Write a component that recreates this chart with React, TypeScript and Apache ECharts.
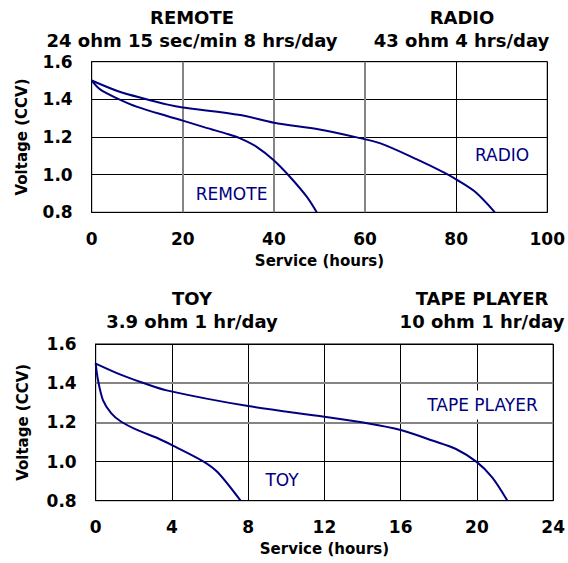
import React, { useEffect, useRef } from "react";
import * as echarts from "echarts";

// Top chart (hours 0-100)
const remoteHours = [0, 2, 5.8, 10, 16.7, 20, 25, 30, 32.6, 36.2, 39.9, 43.5, 47.2, 49.4];
const remoteVolts = [1.5, 1.45, 1.403, 1.36, 1.31, 1.287, 1.25, 1.215, 1.193, 1.148, 1.078, 0.989, 0.883, 0.8];
const radioHours = [0, 5.8, 11.6, 16.7, 20, 32.6, 40, 50, 58.2, 63.4, 71.4, 77.7, 80, 84.1, 88.5];
const radioVolts = [1.5, 1.443, 1.403, 1.372, 1.357, 1.317, 1.276, 1.24, 1.198, 1.166, 1.081, 1.007, 0.975, 0.91, 0.8];

// Bottom chart (hours 0-24)
const tapeHours = [0, 1.34, 2.39, 3.78, 8, 12, 13.95, 16, 17.7, 18.9, 20, 20.8, 21.6];
const tapeVolts = [1.5, 1.442, 1.405, 1.362, 1.283, 1.229, 1.2, 1.161, 1.106, 1.064, 0.997, 0.919, 0.8];
const toyHours = [0, 0.12, 0.38, 0.82, 1.34, 2.2, 3.26, 4, 5.66, 6.4, 7.6];
const toyVolts = [1.5, 1.416, 1.314, 1.246, 1.203, 1.16, 1.119, 1.084, 1.0, 0.945, 0.8];

const topGrayVerticals = [20, 40, 60];
const bottomGrayHorizontals = [1.4, 1.2];

const titlesTop = [
  ["REMOTE", "24 ohm 15 sec/min 8 hrs/day"],
  ["RADIO", "43 ohm 4 hrs/day"],
];
const titlesBottom = [
  ["TOY", "3.9 ohm 1 hr/day"],
  ["TAPE PLAYER", "10 ohm 1 hr/day"],
];
const curveLabels = ["REMOTE", "RADIO", "TAPE PLAYER", "TOY"];
const xName = "Service (hours)";
const yName = "Voltage (CCV)";

const FONT = "DejaVu Sans";
const NAVY = "#000080";
const GRAY = "#858585";

const zip = (xs: number[], ys: number[]) => xs.map((x, i) => [x, ys[i]]);

export default function App() {
  const ref = useRef<HTMLDivElement>(null);
  useEffect(() => {
    if (!ref.current) return;
    const chart = echarts.init(ref.current, undefined, { renderer: "svg" });

    const xAxisBase = (gridIndex: number, max: number, interval: number, gap: number) => ({
      type: "value",
      gridIndex,
      min: 0,
      max,
      interval,
      name: xName,
      nameLocation: "middle",
      nameGap: gap,
      nameTextStyle: { fontFamily: FONT, fontWeight: "bold", fontSize: 15, color: "#000" },
      axisLine: { show: true, lineStyle: { color: "#000", width: 1 } },
      axisTick: { show: false },
      axisLabel: { fontFamily: FONT, fontWeight: "bold", fontSize: 17, color: "#000", margin: 18 },
      splitLine: { show: true, lineStyle: { color: "#000", width: 1 } },
    });
    const yAxisBase = (gridIndex: number, gap: number) => ({
      type: "value",
      gridIndex,
      min: 0.8,
      max: 1.6,
      interval: 0.2,
      name: yName,
      nameLocation: "middle",
      nameGap: gap,
      nameRotate: 90,
      nameTextStyle: { fontFamily: FONT, fontWeight: "bold", fontSize: 15, color: "#000" },
      axisLine: { show: true, lineStyle: { color: "#000", width: 1 } },
      axisTick: { show: false },
      axisLabel: {
        fontFamily: FONT,
        fontWeight: "bold",
        fontSize: 17,
        color: "#000",
        margin: 19,
        formatter: (v: number) => v.toFixed(1),
      },
      splitLine: { show: true, lineStyle: { color: "#000", width: 1 } },
    });

    const curve = (name: string, data: number[][], idx: number) => ({
      name,
      type: "line",
      xAxisIndex: idx,
      yAxisIndex: idx,
      data,
      showSymbol: false,
      symbol: "none",
      smooth: 0.3,
      lineStyle: { color: NAVY, width: 2 },
      z: 5,
    });

    const titleText = (x: number, y: number, text: string) => ({
      type: "text",
      x,
      y,
      style: {
        text,
        fill: "#000",
        font: `bold 18px "${FONT}"`,
        textAlign: "center",
        textVerticalAlign: "middle",
      },
    });
    const inlineText = (x: number, y: number, text: string, boxed = false) => ({
      type: "text",
      x,
      y,
      z: 10,
      style: {
        text,
        fill: NAVY,
        font: `17px "${FONT}"`,
        textAlign: "center",
        textVerticalAlign: "middle",
        ...(boxed ? { backgroundColor: "#fff", padding: [10, 0, 2, 0] } : {}),
      },
    });

    chart.setOption({
      animation: false,
      backgroundColor: "#fff",
      grid: [
        { left: 91.7, top: 61.7, width: 455.6, height: 150.6, show: true, borderColor: "#000", borderWidth: 1, containLabel: false },
        { left: 95.7, top: 344, width: 458.3, height: 156.7, show: true, borderColor: "#000", borderWidth: 1, containLabel: false },
      ],
      xAxis: [xAxisBase(0, 100, 20, 41), xAxisBase(1, 24, 4, 41)],
      yAxis: [yAxisBase(0, 62), yAxisBase(1, 65)],
      series: [
        {
          type: "line",
          xAxisIndex: 0,
          yAxisIndex: 0,
          data: [],
          z: 1,
          silent: true,
          markLine: {
            silent: true,
            symbol: "none",
            label: { show: false },
            lineStyle: { color: GRAY, width: 2, type: "solid" },
            data: topGrayVerticals.map((v) => ({ xAxis: v })),
          },
        },
        {
          type: "line",
          xAxisIndex: 1,
          yAxisIndex: 1,
          data: [],
          z: 1,
          silent: true,
          markLine: {
            silent: true,
            symbol: "none",
            label: { show: false },
            lineStyle: { color: GRAY, width: 2, type: "solid" },
            data: bottomGrayHorizontals.map((v) => ({ yAxis: v })),
          },
        },
        curve("REMOTE", zip(remoteHours, remoteVolts), 0),
        curve("RADIO", zip(radioHours, radioVolts), 0),
        curve("TAPE PLAYER", zip(tapeHours, tapeVolts), 1),
        curve("TOY", zip(toyHours, toyVolts), 1),
      ],
      graphic: [
        titleText(192, 17, titlesTop[0][0]),
        titleText(192, 40, titlesTop[0][1]),
        titleText(462, 17, titlesTop[1][0]),
        titleText(461.5, 40, titlesTop[1][1]),
        titleText(192, 298, titlesBottom[0][0]),
        titleText(192, 321, titlesBottom[0][1]),
        titleText(482, 298, titlesBottom[1][0]),
        titleText(482, 321, titlesBottom[1][1]),
        inlineText(231.5, 194, curveLabels[0]),
        inlineText(502, 155, curveLabels[1]),
        inlineText(482.5, 405, curveLabels[2], true),
        inlineText(282, 480, curveLabels[3]),
      ],
    });
    return () => chart.dispose();
  }, []);
  return (
    <div
      ref={ref}
      style={{ position: "absolute", left: 0, top: 0, width: 568, height: 563, background: "#fff" }}
    />
  );
}
